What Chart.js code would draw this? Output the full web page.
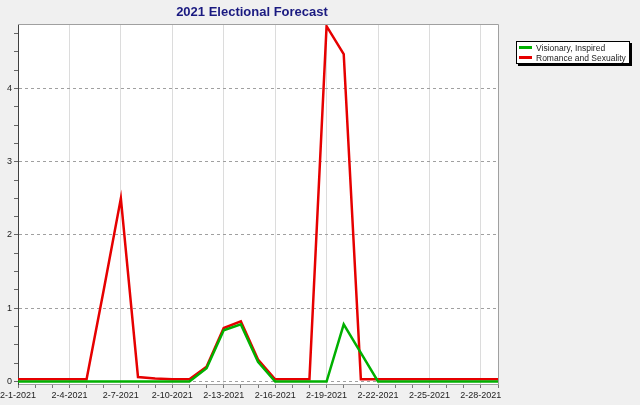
<!DOCTYPE html>
<html lang="en">
<head>
    <meta charset="UTF-8">
    <title>2021 Electional Forecast</title>
    <script src="https://cdn.jsdelivr.net/npm/chart.js"></script>
    <style>
        body { margin: 0; background: #f0f0f0; font-family: "Liberation Sans", Arial, sans-serif; }
        #wrap { position: relative; width: 640px; height: 405px; overflow: hidden; }
        #title { position: absolute; left: 152px; width: 200px; top: 4px; text-align: center;
                 font-weight: bold; font-size: 13px; color: #1a1a80; white-space: nowrap; }
        #legend { position: absolute; left: 516px; top: 41px; width: 112px; height: 21px;
                  background: #fff; border: 1px solid #000; box-shadow: 2px 2px 0 #000;
                  font-size: 8.5px; color: #222; padding: 0; }
        .item { height: 10px; line-height: 10px; white-space: nowrap; margin-top: 0.5px; }
        .item span.sw { display: inline-block; width: 13px; height: 3px; margin: 0 4px 2px 2px; vertical-align: middle; }
    </style>
</head>
<body>
<div id="wrap">
    <canvas id="chart" width="640" height="405"></canvas>
    <div id="title">2021 Electional Forecast</div>
    <div id="legend"></div>
</div>
<script>
    const dates = ['2-1-2021', '2-2-2021', '2-3-2021', '2-4-2021', '2-5-2021', '2-6-2021', '2-7-2021',
        '2-8-2021', '2-9-2021', '2-10-2021', '2-11-2021', '2-12-2021', '2-13-2021', '2-14-2021',
        '2-15-2021', '2-16-2021', '2-17-2021', '2-18-2021', '2-19-2021', '2-20-2021', '2-21-2021',
        '2-22-2021', '2-23-2021', '2-24-2021', '2-25-2021', '2-26-2021', '2-27-2021', '2-28-2021', '3-1-2021'];

    const visionary = [0, 0, 0, 0, 0, 0, 0, 0, 0, 0, 0, 0.18, 0.7, 0.78, 0.27, 0, 0, 0, 0, 0.78, 0.39,
        0, 0, 0, 0, 0, 0, 0, 0];
    const romance = [0.03, 0.03, 0.03, 0.03, 0.03, 1.25, 2.5, 0.06, 0.04, 0.03, 0.03, 0.2, 0.73, 0.82, 0.3,
        0.03, 0.03, 0.03, 4.85, 4.47, 0.03, 0.03, 0.03, 0.03, 0.03, 0.03, 0.03, 0.03, 0.03];

    const seriesNames = ['Visionary, Inspired', 'Romance and Sexuality'];
    const seriesColors = ['#00b000', '#e60000'];

    // y ticks: labelled integers plus quarter minor ticks
    const yTickValues = [0, 0.25, 0.5, 0.75, 1, 1.25, 1.5, 1.75, 2, 2.25, 2.5, 2.75,
        3, 3.25, 3.5, 3.75, 4, 4.25, 4.5, 4.75];

    // white plot area + grey frame around it
    const plotFrame = {
        id: 'plotFrame',
        beforeDraw(chart) {
            const a = chart.chartArea, ctx = chart.ctx;
            ctx.save();
            ctx.fillStyle = '#fff';
            ctx.fillRect(a.left, a.top, a.right - a.left, a.bottom - a.top);
            ctx.restore();
        },
        afterDraw(chart) {
            const a = chart.chartArea, ctx = chart.ctx;
            ctx.save();
            ctx.strokeStyle = '#a0a0a0';
            ctx.lineWidth = 1;
            ctx.beginPath();
            ctx.moveTo(a.left, a.top + 0.5);
            ctx.lineTo(a.right + 0.5, a.top + 0.5);
            ctx.lineTo(a.right + 0.5, a.bottom);
            ctx.stroke();
            ctx.restore();
        }
    };

    const chart = new Chart(document.getElementById('chart'), {
        type: 'line',
        data: {
            labels: dates,
            datasets: [{
                label: seriesNames[0],
                data: visionary,
                borderColor: seriesColors[0],
                backgroundColor: seriesColors[0],
                borderWidth: 2.5
            }, {
                label: seriesNames[1],
                data: romance,
                borderColor: seriesColors[1],
                backgroundColor: seriesColors[1],
                borderWidth: 2.5
            }]
        },
        options: {
            responsive: false,
            animation: false,
            devicePixelRatio: 1,
            layout: { padding: { left: 0, top: 24, right: 142, bottom: 0 } },
            elements: { point: { radius: 0 }, line: { tension: 0 } },
            plugins: { legend: { display: false }, tooltip: { enabled: false } },
            scales: {
                x: {
                    offset: false,
                    afterFit: s => { s.height = 21; s.paddingLeft = 0; s.paddingRight = 0; },
                    grid: {
                        color: c => (c.index % 3 === 0 ? '#dcdcdc' : 'rgba(0,0,0,0)'),
                        tickColor: '#777',
                        tickLength: 4
                    },
                    border: { color: '#a0a0a0', width: 1 },
                    ticks: {
                        autoSkip: false,
                        maxRotation: 0,
                        padding: 2,
                        color: '#222',
                        font: { family: 'Liberation Sans', size: 9 },
                        callback: function (v, i) { return i % 3 === 0 && i < 28 ? this.getLabelForValue(v) : ''; }
                    }
                },
                y: {
                    min: -0.034,
                    max: 4.88,
                    afterFit: s => { s.width = 18; },
                    afterBuildTicks: s => { s.ticks = yTickValues.map(v => ({ value: v })); },
                    grid: {
                        color: c => (c.tick && Number.isInteger(c.tick.value) ? '#a0a0a0' : 'rgba(0,0,0,0)'),
                        tickColor: '#666',
                        tickLength: 4
                    },
                    border: { color: '#404040', width: 1, dash: [3, 3] },
                    ticks: {
                        autoSkip: false,
                        padding: 2,
                        color: '#222',
                        font: { family: 'Liberation Sans', size: 9 },
                        callback: v => (Number.isInteger(v) ? String(v) : '')
                    }
                }
            }
        },
        plugins: [plotFrame]
    });

    // legend box
    const legend = document.getElementById('legend');
    chart.data.datasets.forEach(ds => {
        const row = document.createElement('div');
        row.className = 'item';
        row.innerHTML = '<span class="sw" style="background:' + ds.borderColor + '"></span>' + ds.label;
        legend.appendChild(row);
    });
</script>
</body>
</html>
